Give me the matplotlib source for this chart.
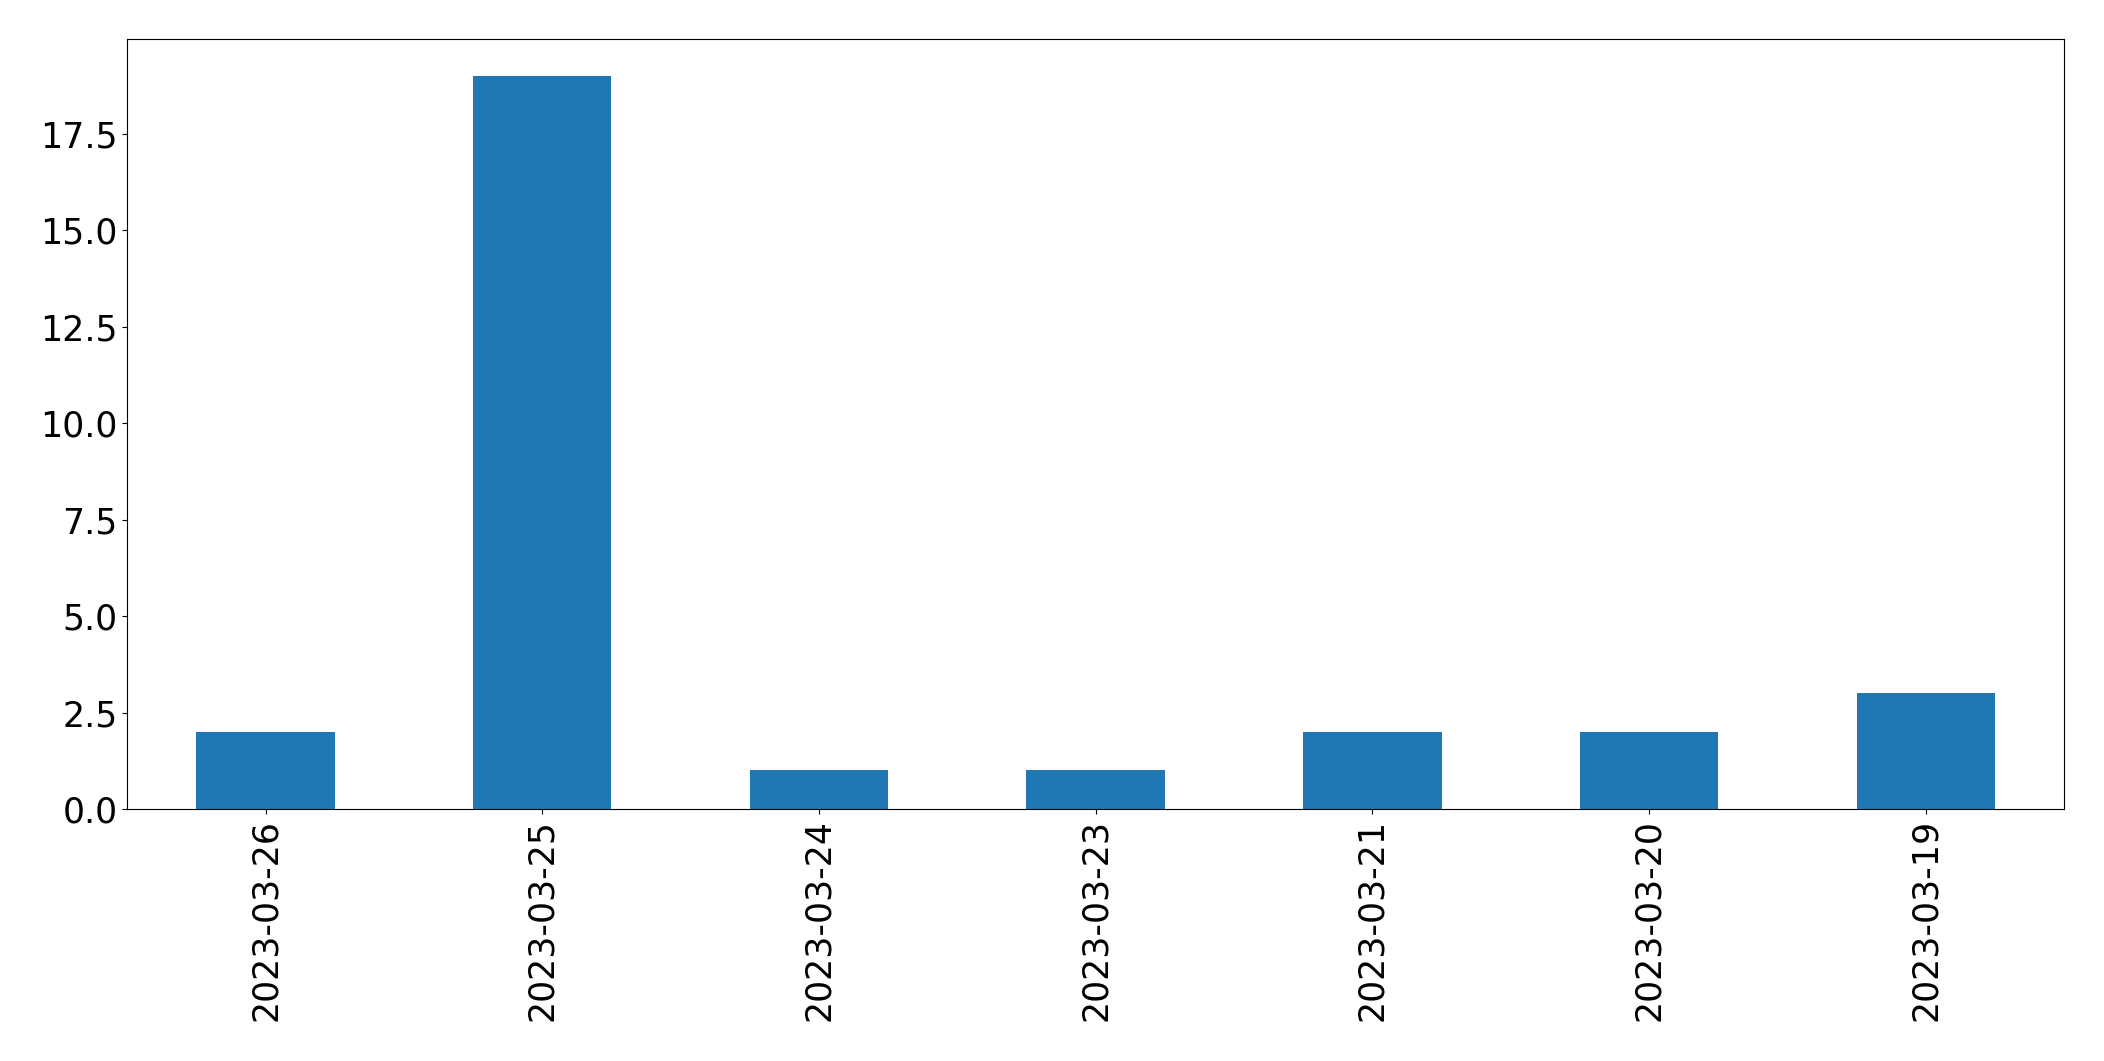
import matplotlib
matplotlib.use("Agg")
import matplotlib.pyplot as plt

# daily counts, newest first (as in the reference)
dates = ["2023-03-26", "2023-03-25", "2023-03-24", "2023-03-23",
         "2023-03-21", "2023-03-20", "2023-03-19"]
counts = [2, 19, 1, 1, 2, 2, 3]

fig = plt.figure(figsize=(21.04, 10.61), dpi=100)
ax = fig.add_axes([0.0605, 0.2375, 0.9205, 0.7255])

x = list(range(len(dates)))
ax.bar(x, counts, width=0.5, color="#1f77b4")
ax.set_xlim(-0.5, len(dates) - 0.5)
ax.set_ylim(0, max(counts) * 1.05)
ax.set_xticks(x)
ax.set_xticklabels(dates, rotation=90)
ax.tick_params(axis="both", labelsize=25)

fig.savefig("out.png", dpi=100)
